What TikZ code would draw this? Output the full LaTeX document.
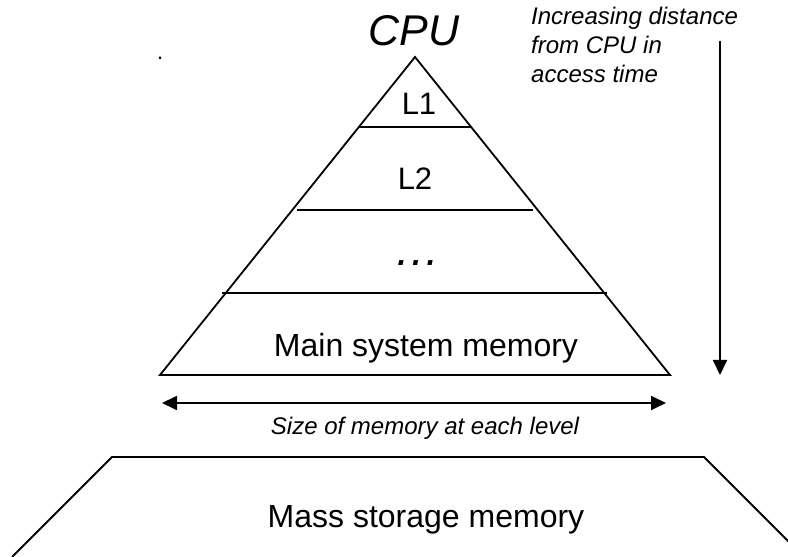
\documentclass[tikz,border=0pt]{standalone}
\usepackage{fontspec}
\setmainfont{Liberation Sans}
\usetikzlibrary{arrows.meta}
\begin{document}
\begin{tikzpicture}[x=1pt,y=1pt,
  shapeline/.style={line width=1.8pt, line join=miter},
  levelline/.style={line width=1.8pt},
  arr/.style={line width=1.8pt, -{Triangle[length=15pt,width=14pt]}},
  darr/.style={line width=1.8pt, {Triangle[length=15pt,width=14pt]}-{Triangle[length=15pt,width=14pt]}},
  txt/.style={inner sep=0pt, anchor=base},
  big/.style={font=\fontsize{32}{38}\selectfont},
  note/.style={inner sep=0pt, anchor=base west, font=\fontsize{24}{29}\selectfont\itshape},
]
\useasboundingbox (0,0) rectangle (788,557);
\clip (0,0) rectangle (788,557);

% pyramid of cache / memory levels
\coordinate (apex) at (415,500);
\coordinate (bl) at (160,182);
\coordinate (br) at (670,182);
\draw[shapeline] (bl) -- (apex) -- (br) -- cycle;

\draw[levelline] (358,430) -- (472,430);
\draw[levelline] (297,347) -- (533,347);
\draw[levelline] (222,264) -- (607,264);

\node[txt, font=\fontsize{43}{50}\selectfont\itshape] (cpu) at (414,511) {CPU};
\node[txt, font=\fontsize{31}{37}\selectfont] (l1) at (419,442) {L1};
\node[txt, font=\fontsize{31}{37}\selectfont] (l2) at (415,367) {L2};
\node[txt, font=\fontsize{46}{54}\selectfont\itshape] (dots) at (417,291) {…};
\node[txt, big] (mainmem) at (426,200) {Main system memory};

\node[txt, anchor=base west, font=\fontsize{22}{26}\selectfont] (mark) at (157,497) {.};

% access-time axis
\coordinate (vtop) at (720,516);
\coordinate (vbot) at (720,182);
\draw[arr] (vtop) -- (vbot);
\node[note] (dist1) at (531,532) {Increasing distance};
\node[note] (dist2) at (531,503) {from CPU in};
\node[note] (dist3) at (531,474) {access time};

% size axis
\coordinate (hl) at (162,154);
\coordinate (hr) at (666,154);
\draw[darr] (hl) -- (hr);
\node[txt, font=\fontsize{24}{29}\selectfont\itshape] (size) at (425,122) {Size of memory at each level};

% mass storage trapezoid
\draw[shapeline] (12,0) -- (112,100) -- (704,100) -- (802,2);
\node[txt, big] (mass) at (426,29) {Mass storage memory};
\end{tikzpicture}
\end{document}
